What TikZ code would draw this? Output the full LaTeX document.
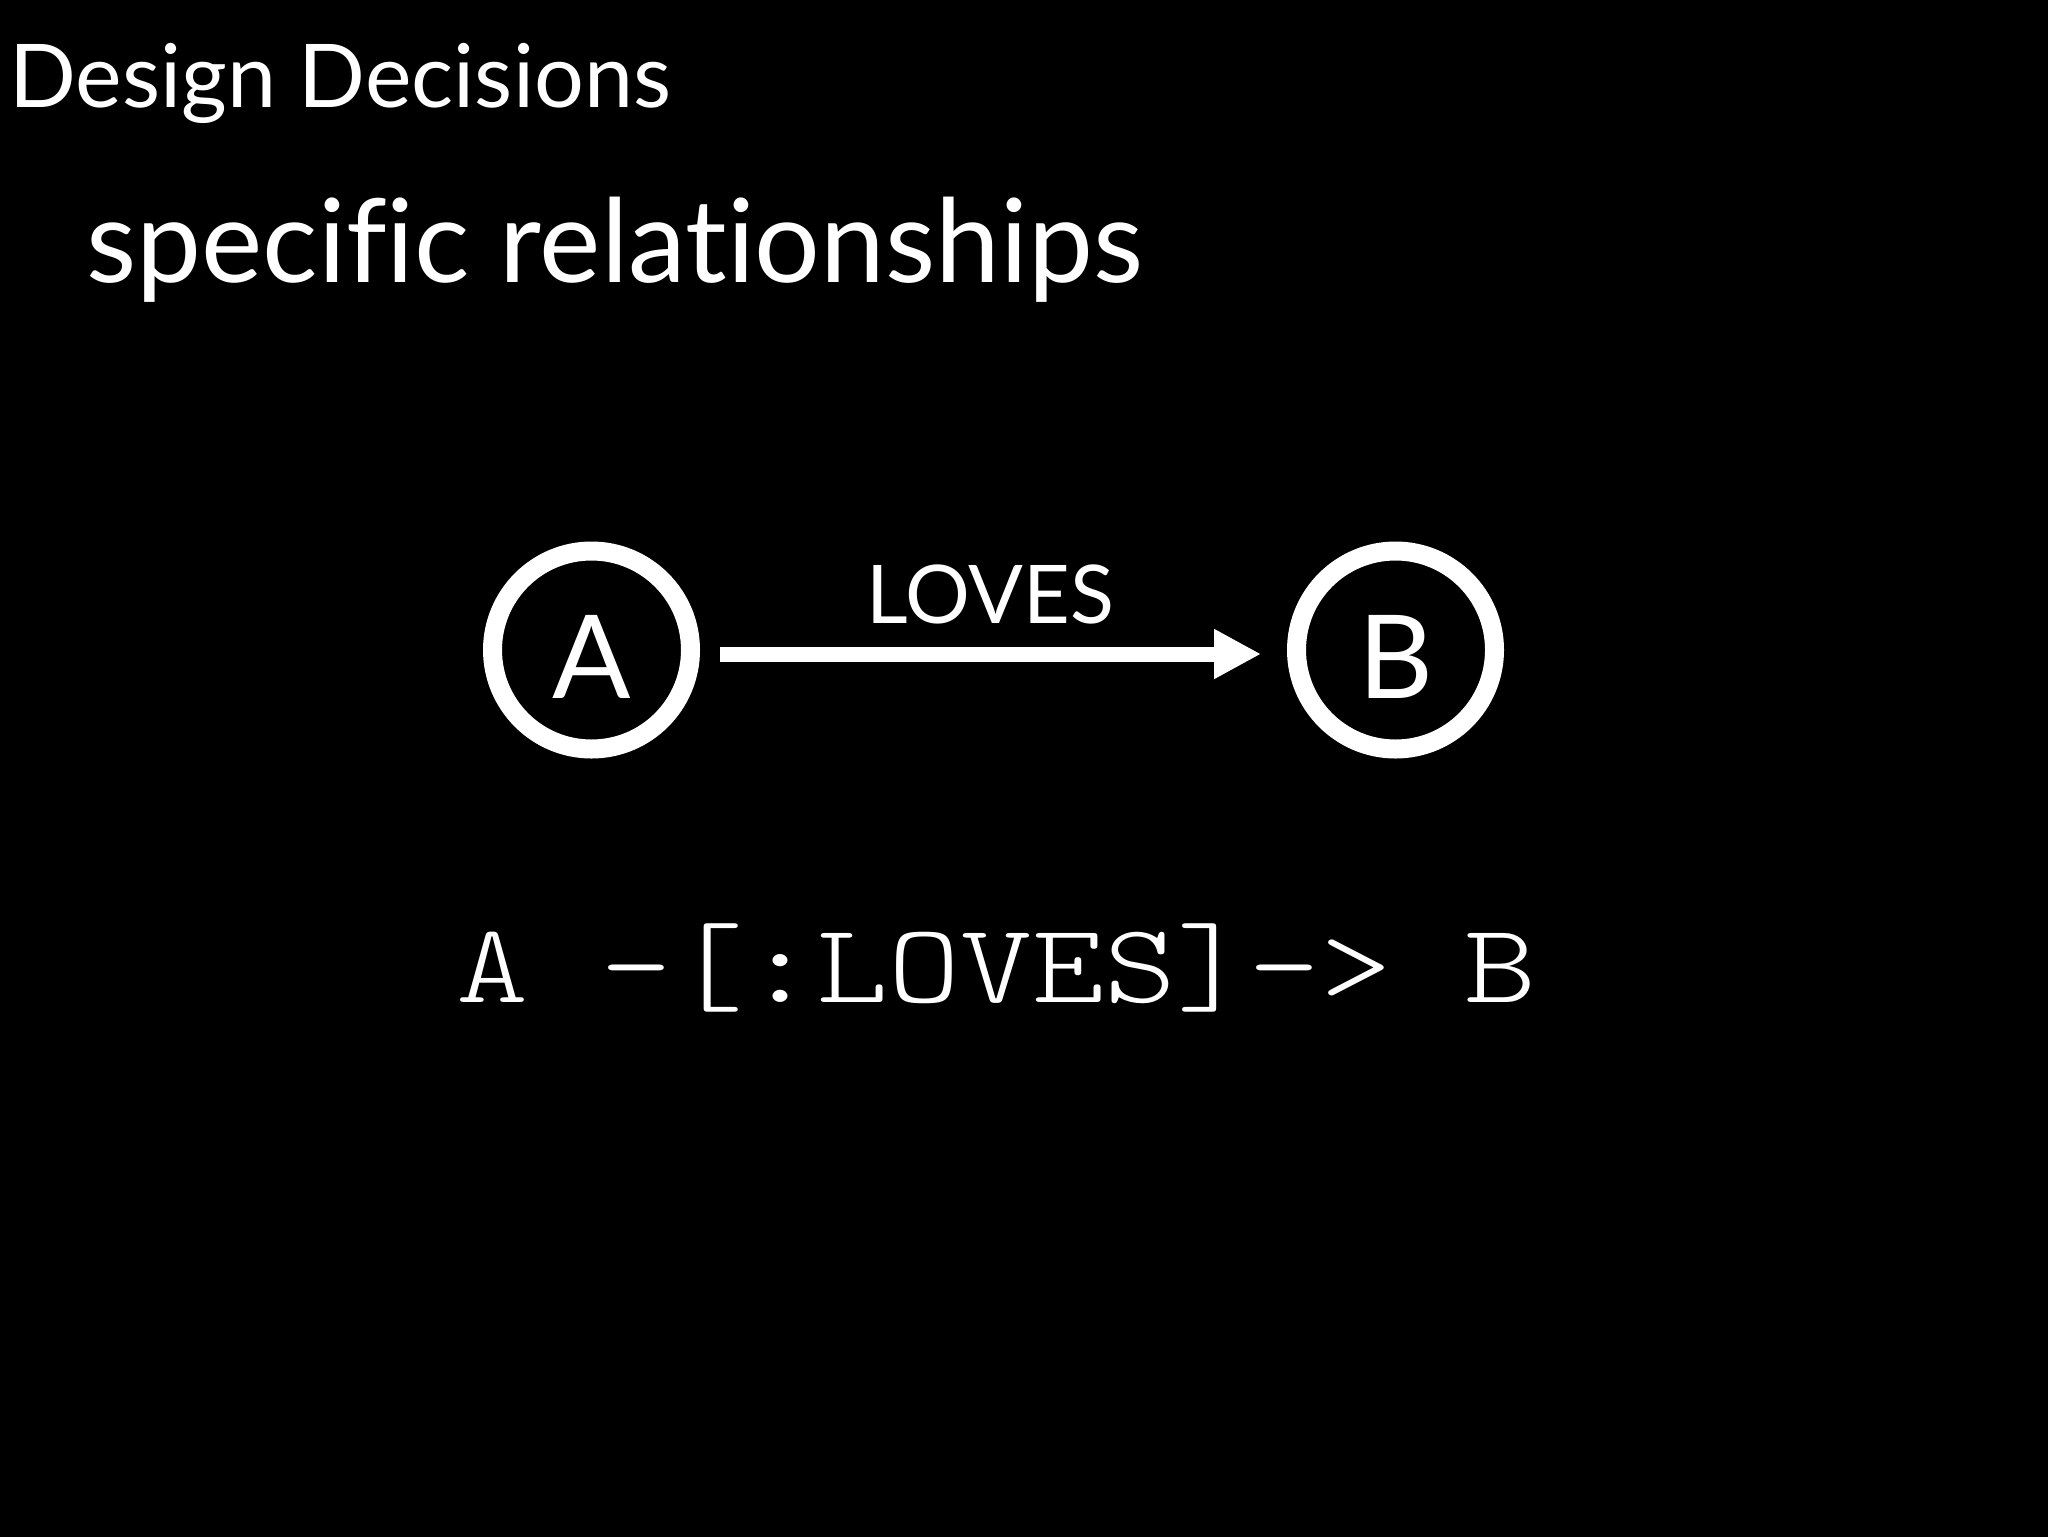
\documentclass[tikz,border=0pt]{standalone}
\usepackage{fontspec}
\setmainfont{Lato}[Ligatures=NoCommon]
\usetikzlibrary{arrows.meta}
\tikzset{
  titletext/.style={anchor=base west, inner sep=0pt, text=white, font=\fontsize{44pt}{44pt}\selectfont},
  subtext/.style={anchor=base west, inner sep=0pt, text=white, font=\fontsize{58pt}{58pt}\selectfont},
  entity/.style={circle, draw=white, line width=9.5pt, minimum size=99pt, inner sep=0pt,
     text=white, font=\fontsize{58pt}{58pt}\selectfont, text height=48.5pt, text depth=0pt},
  rel/.style={draw=white, line width=7.5pt, -{Triangle[length=23.5pt,width=23.5pt]}},
  rellabel/.style={anchor=base, inner sep=0pt, text=white, font=\fontsize{40.5pt}{40.5pt}\selectfont},
  codetext/.style={anchor=base, inner sep=0pt, text=white, xscale=1.213, transform shape,
     font=\ttfamily\fontseries{l}\fontsize{56.5pt}{56.5pt}\selectfont}
}
\begin{document}
\begin{tikzpicture}[x=0.5pt,y=-0.5pt]
\useasboundingbox (0,0) rectangle (2048,1536);
\fill[black] (-20,-20) rectangle (2068,1556);
\node[titletext] (title) at (9,108) {Design Decisions};
\node[subtext] (sub) at (86,282) {specific relationships};
\node[entity] (A) at (591.5,650) {A};
\node[entity] (B) at (1395.5,650) {B};
\draw[rel] ([xshift=10pt,yshift=-2pt]A.east) -- node[rellabel, midway, yshift=15.5pt] (loves) {LOVES} ([xshift=-13pt,yshift=-2pt]B.west);
\node[codetext] (code) at (996.5,1002) {A -[:LOVES]-> B};
\end{tikzpicture}
\end{document}
